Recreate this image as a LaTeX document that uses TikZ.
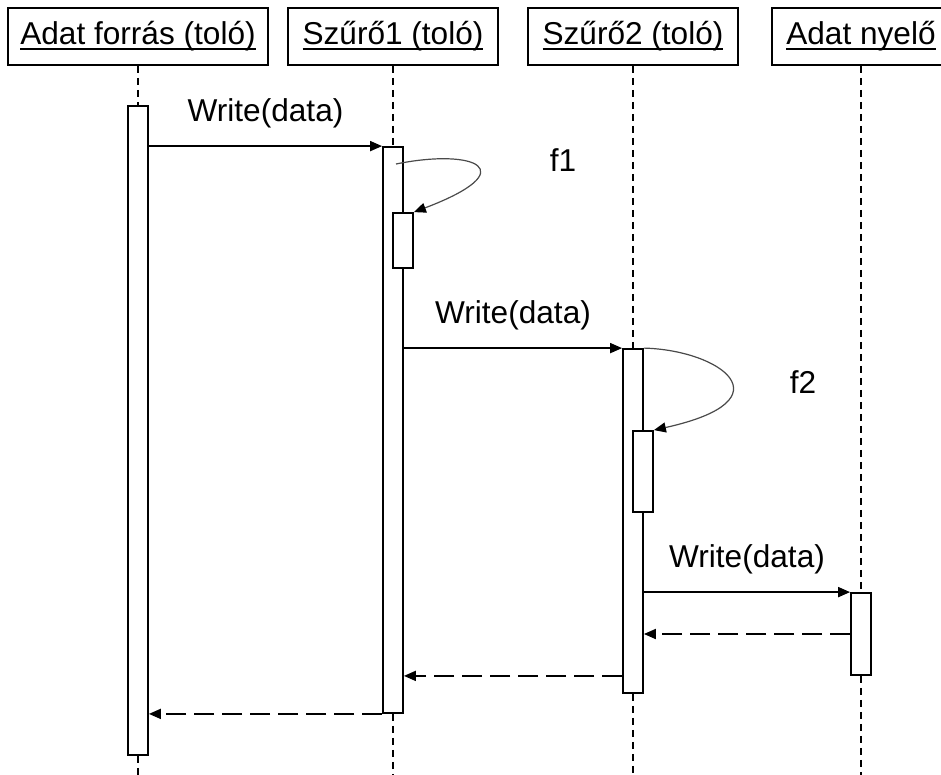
\documentclass[tikz,border=0pt]{standalone}
\usepackage{fontspec}
\setmainfont{Liberation Sans}
\usepackage{tikz}
\usetikzlibrary{positioning,calc,arrows.meta}
\definecolor{ink}    {HTML}{000000}
\definecolor{loopink}{HTML}{4A4A4A}
\newcommand\ulname[1]{\setbox0\hbox{#1}\rlap{\rule[-0.17em]{\wd0}{0.065em}}\box0}
\tikzset{
  every node/.style={font=\fontsize{15.8}{19}\selectfont},
  % --- nodes
  head/.style = {draw=ink, fill=white, line width=0.9pt, minimum height=28.5pt, inner sep=0pt},
  bar/.style  = {draw=ink, fill=white, line width=0.9pt, minimum width=10pt, inner sep=0pt},
  msg/.style  = {inner sep=0pt, text=ink},
  % --- edges
  life/.style = {draw=ink, line width=0.8pt, dash pattern=on 3.5pt off 2.5pt},
  call/.style = {-{Triangle[length=6pt,width=5pt]}, line width=0.9pt, draw=ink},
  ret/.style  = {call, dash pattern=on 10pt off 4pt},
  self/.style = {-{Triangle[length=6pt,width=5pt,color=ink]}, line width=0.6pt, draw=loopink},
}
\begin{document}
\begin{tikzpicture}[x=0.5pt, y=-0.5pt]
  \useasboundingbox (0,0) rectangle (941,775);
  \clip (0,0) rectangle (941,775);
  % heads
  \node[head, minimum width=130pt] (src)  at (138,36.5) {\ulname{Adat forrás (toló)}};
  \node[head, minimum width=105pt] (f1)   at (393,36.5) {\ulname{Szűrő1 (toló)}};
  \node[head, minimum width=105pt] (f2)   at (633,36.5) {\ulname{Szűrő2 (toló)}};
  \node[head, minimum width=89pt]  (sink) at (861,36.5) {\ulname{Adat nyelő}};
  % activation bars
  \node[bar, minimum height=324.5pt] (srcbar)  at (138,430.5) {};
  \node[bar, minimum height=283pt]   (f1bar)   at (393,430) {};
  \node[bar, minimum height=27.5pt]  (f1sub)   at (403,240.5) {};
  \node[bar, minimum height=172pt]   (f2bar)   at (633,521) {};
  \node[bar, minimum height=40.5pt]  (f2sub)   at (643,471.5) {};
  \node[bar, minimum height=41pt]    (sinkbar) at (861,634) {};
  % life lines
  \coordinate (srcend)  at (138,775);
  \coordinate (f1end)   at (393,775);
  \coordinate (f2end)   at (633,775);
  \coordinate (sinkend) at (861,775);
  \draw[life] (src) -- (srcbar);   \draw[life] (srcbar) -- (srcend);
  \draw[life] (f1) -- (f1bar);     \draw[life] (f1bar) -- (f1end);
  \draw[life] (f2) -- (f2bar);     \draw[life] (f2bar) -- (f2end);
  \draw[life] (sink) -- (sinkbar); \draw[life] (sinkbar) -- (sinkend);
  % messages
  \draw[call] (srcbar.east |- f1bar.north) -- node[msg, above=8.5pt] {Write(data)} (f1bar.north west);
  \coordinate (f1from) at (396,164);
  \draw[self] (f1from) .. controls (475,148) and (525,170) .. (f1sub.north east);
  \node[msg] (f1lbl) at (563,160) {f1};
  \draw[call] (f1bar.east |- f2bar.north) -- node[msg, above=8.5pt] {Write(data)} (f2bar.north west);
  \draw[self] (f2bar.north east) .. controls (720,350) and (790,400) .. (f2sub.north east);
  \node[msg] (f2lbl) at (803,382) {f2};
  \draw[call] (f2bar.east |- sinkbar.north) -- node[msg, above=8.5pt] {Write(data)} (sinkbar.north west);
  \draw[ret] (sinkbar.west) -- (f2bar.east |- sinkbar.west);
  \draw[ret] (f2bar.west |- sinkbar.south) -- (f1bar.east |- sinkbar.south);
  \draw[ret] (f1bar.south west) -- (srcbar.east |- f1bar.south);
\end{tikzpicture}
\end{document}
